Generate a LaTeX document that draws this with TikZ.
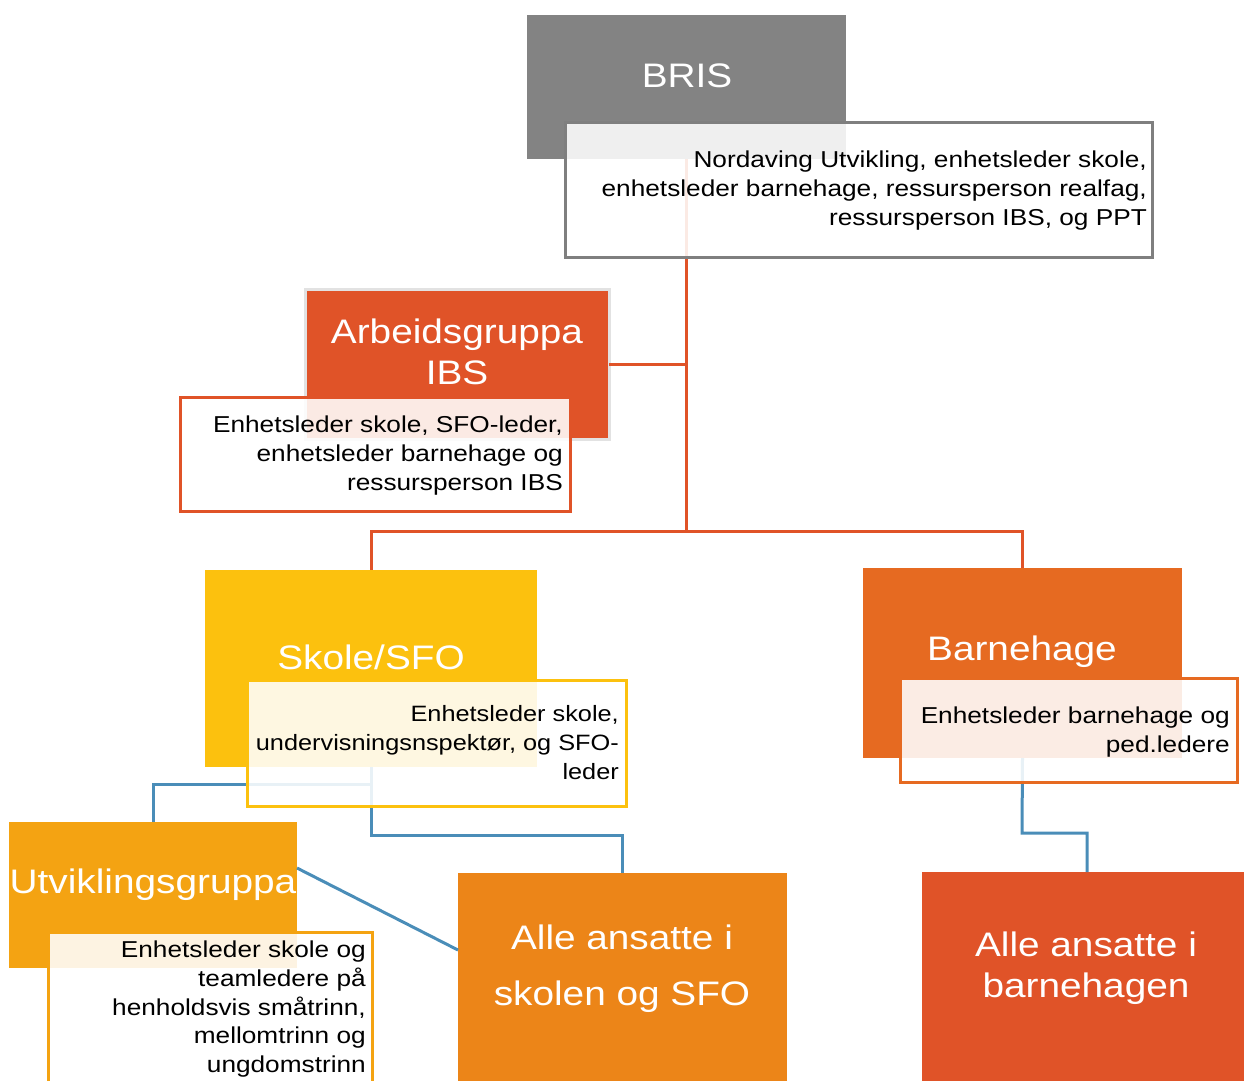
\documentclass[tikz,border=0pt]{standalone}
\usepackage{fontspec}
\setmainfont{Liberation Sans}[FakeStretch=1.14]
\definecolor{cGray}{HTML}{838383}
\definecolor{cGrayB}{HTML}{7F7F7F}
\definecolor{cLight}{HTML}{E2E2E2}
\definecolor{cRed}{HTML}{E05328}
\definecolor{cYellow}{HTML}{FCC10E}
\definecolor{cBhg}{HTML}{E66A21}
\definecolor{cUtv}{HTML}{F4A312}
\definecolor{cAlleS}{HTML}{EC8518}
\definecolor{cBlue}{HTML}{4A8DB8}
\begin{document}
\begin{tikzpicture}[x=1pt,y=-1pt,
  box/.style={rectangle, inner sep=0pt, outer sep=0pt, anchor=north west},
  detail/.style={box, fill=white, fill opacity=0.88, line width=3pt},
  title/.style={text=white, font=\fontsize{34}{41}\selectfont, align=center, inner sep=0pt},
  desc/.style={text=black, font=\fontsize{23}{28.7}\selectfont, align=right, inner sep=0pt, anchor=north east},
  redline/.style={draw=cRed, line width=3pt},
  blueline/.style={draw=cBlue, line width=3pt}]
\clip (0,0) rectangle (1244,1080);
\useasboundingbox (0,0) rectangle (1244,1080);

% boxes (coloured)
\node[box, fill=cGray, minimum width=319pt, minimum height=144pt] (bris) at (527,15) {};
\node[box, fill=cRed, draw=cLight, line width=3pt, minimum width=304pt, minimum height=150pt] (arb) at (305,289) {};
\node[box, fill=cYellow, minimum width=332pt, minimum height=197pt] (skole) at (205,570) {};
\node[box, fill=cBhg, minimum width=319pt, minimum height=190pt] (bhg) at (863,568) {};
\node[box, fill=cUtv, minimum width=288pt, minimum height=146pt] (utv) at (9,822) {};
\node[box, fill=cAlleS, minimum width=329pt, minimum height=220pt] (allesk) at (458,873) {};
\node[box, fill=cRed, minimum width=330pt, minimum height=220pt] (alleb) at (922,872) {};

% connectors
\coordinate (j1) at (686,531);
\coordinate (j2) at (371,784);
\coordinate (j3) at (371,835);
\coordinate (j4) at (1022,833);
\draw[redline] (bris.south -| j1) -- (j1);
\draw[redline] (arb.east) -- (arb.east -| j1);
\draw[redline] (j1) -| (skole.north);
\draw[redline] (j1) -| (bhg.north);
\draw[blueline] (skole.south) -- (j2) -| (utv.north);
\draw[blueline] (j2) -- (j3) -| (allesk.north);
\draw[blueline] (utv.east |- 0,868) -- (allesk.west |- 0,950);
\draw[blueline] (bhg.south) -- (j4) -| (alleb.north);

% detail boxes
\node[detail, draw=cGrayB, minimum width=587pt, minimum height=135pt] (brisd) at (565,122) {};
\node[detail, draw=cRed, minimum width=390pt, minimum height=114pt] (arbd) at (180,397) {};
\node[detail, draw=cYellow, minimum width=379pt, minimum height=126pt] (skoled) at (247,680) {};
\node[detail, draw=cBhg, minimum width=337pt, minimum height=104pt] (bhgd) at (900,678) {};
\node[detail, draw=cUtv, minimum width=324pt, minimum height=160pt] (utvd) at (48,932) {};

% titles
\node[title] (tbris) at (687,76) {BRIS};
\node[title] (tarb) at (457,352) {Arbeidsgruppa\\IBS};
\node[title] (tskole) at (371,657) {Skole/SFO};
\node[title] (tbhg) at (1022,652) {Barnehage};
\node[title] (tutv) at (153,885) {Utviklingsgruppa};
\node[title, font=\fontsize{34}{56}\selectfont] (tallesk) at (622,969) {Alle ansatte i\\skolen og SFO};
\node[title] (talleb) at (1086,968) {Alle ansatte i\\barnehagen};

% descriptions
\node[desc] (dbris) at (1147,151) {Nordaving Utvikling, enhetsleder skole,\\enhetsleder barnehage, ressursperson realfag,\\ressursperson IBS, og PPT};
\node[desc] (darb) at (563,416) {Enhetsleder skole, SFO-leder,\\enhetsleder barnehage og\\ressursperson IBS};
\node[desc, font=\fontsize{22.2}{28.7}\selectfont] (dskole) at (619,705.5) {Enhetsleder skole,\\undervisningsnspektør, og SFO-\\leder};
\node[desc] (dbhg) at (1230,707) {Enhetsleder barnehage og\\ped.ledere};
\node[desc] (dutv) at (366,941) {Enhetsleder skole og\\teamledere på\\henholdsvis småtrinn,\\mellomtrinn og\\ungdomstrinn};
\end{tikzpicture}
\end{document}
